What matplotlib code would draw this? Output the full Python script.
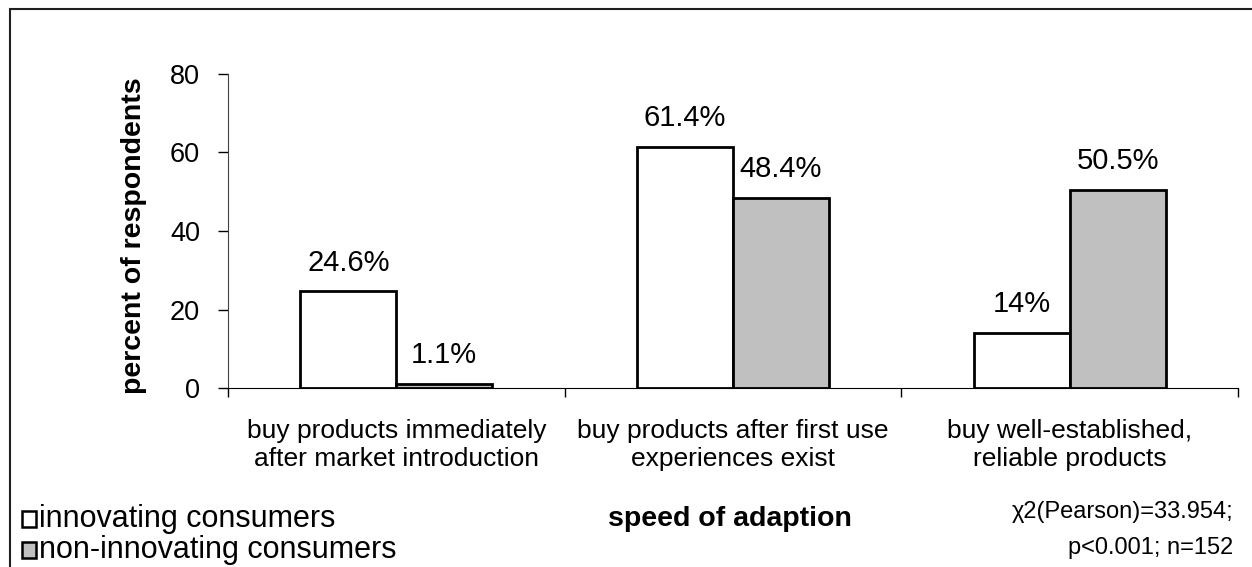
import numpy as np
import matplotlib.pyplot as plt
from matplotlib.patches import Rectangle

plt.rcParams['font.family'] = ['Liberation Sans', 'DejaVu Sans']

categories = ["buy products immediately\nafter market introduction",
              "buy products after first use\nexperiences exist",
              "buy well-established,\nreliable products"]
innovating = [24.6, 61.4, 14]
non_innovating = [1.1, 48.4, 50.5]
inno_labels = ["24.6%", "61.4%", "14%"]
non_labels = ["1.1%", "48.4%", "50.5%"]
series_names = ["innovating consumers", "non-innovating consumers"]
yticks = [0, 20, 40, 60, 80]

W, H = 1252, 567
fig = plt.figure(figsize=(W / 100, H / 100), dpi=100)
ax = fig.add_axes([228 / W, 1 - 388 / H, (1238 - 228) / W, (388 - 74) / H])

x = np.arange(len(categories))
w = 0.285
b1 = ax.bar(x - w / 2, innovating, w, color='white', edgecolor='black', linewidth=2)
b2 = ax.bar(x + w / 2, non_innovating, w, color='#c0c0c0', edgecolor='black', linewidth=2)

for bars, labs in ((b1, inno_labels), (b2, non_labels)):
    for r, t in zip(bars, labs):
        ax.annotate(t, (r.get_x() + r.get_width() / 2, r.get_height()),
                    xytext=(0, 15), textcoords='offset points',
                    ha='center', va='baseline', fontsize=21)

ax.set_xlim(-0.5, len(categories) - 0.5)
ax.set_ylim(0, 80)
ax.set_yticks(yticks)
ax.tick_params(axis='y', labelsize=19.5, direction='out', length=7, width=1, pad=13)
ax.set_xticks(np.arange(-0.5, len(categories)))
ax.set_xticklabels([])
ax.tick_params(axis='x', direction='out', length=6.5, width=1)
for i, c in enumerate(categories):
    ax.annotate(c, (i, 0), xycoords=('data', 'axes fraction'),
                xytext=(0, -22), textcoords='offset points',
                ha='center', va='top', fontsize=19, linespacing=1.25)

for s in ('top', 'right'):
    ax.spines[s].set_visible(False)
ax.spines['left'].set_color('#404040')

fig.text(134 / W, 1 - 236 / H, "percent of respondents", rotation=90,
         ha='center', va='center', fontsize=20.5, fontweight='bold')
fig.text(730 / W, 1 - 519 / H, "speed of adaption", ha='center', va='center',
         fontsize=20.5, fontweight='bold')

# legend drawn by hand, like the original export
for j, (name, col) in enumerate(zip(series_names, ['white', '#c0c0c0'])):
    yc = 519 + j * 31
    fig.patches.append(Rectangle((22 / W, 1 - (yc + 8) / H), 14 / W, 16 / H,
                                 transform=fig.transFigure, facecolor=col,
                                 edgecolor='black', linewidth=1.8))
    fig.text(39 / W, 1 - yc / H, name, ha='left', va='center', fontsize=22)

fig.text(1233 / W, 1 - 512 / H, "χ2(Pearson)=33.954;", ha='right', va='center', fontsize=17)
fig.text(1233 / W, 1 - 548 / H, "p<0.001; n=152", ha='right', va='center', fontsize=17)

# outer frame
fig.patches.append(Rectangle((10 / W, -0.05), 1.1, 1 - 9 / H + 0.05,
                             transform=fig.transFigure, fill=False,
                             edgecolor='#202020', linewidth=1.5))

fig.savefig("out.png", dpi=100)
